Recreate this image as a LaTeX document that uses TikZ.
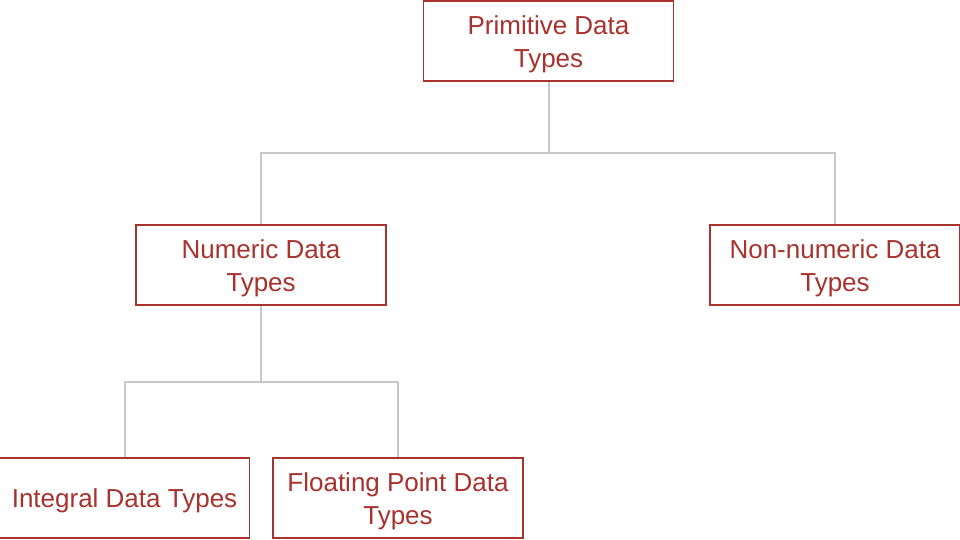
\documentclass[tikz,border=0pt]{standalone}
\usepackage{fontspec}
\setmainfont{Liberation Sans}
\definecolor{boxred}{HTML}{A8322D}
\definecolor{linegray}{HTML}{C8C8C8}
\begin{document}
\begin{tikzpicture}[x=1pt,y=-1pt,
  box/.style={draw=boxred,line width=1.5pt,fill=white,
    minimum width=250pt,minimum height=80pt,inner sep=0pt},
  lbl/.style={text=boxred,inner sep=0pt,align=center,yshift=-3pt,
    font=\fontsize{26}{33}\selectfont},
  conn/.style={draw=linegray,line width=2pt}]
\useasboundingbox (0,0) rectangle (960,540);
\node[box] (prim) at (548.5,41) {};
\node[box] (num) at (261,265) {};
\node[box] (non) at (835,265) {};
\node[box] (int) at (124.5,498) {};
\node[box] (flt) at (398,498) {};
\node[lbl] (primt) at (prim.center) {Primitive Data\\Types};
\node[lbl] (numt) at (num.center) {Numeric Data\\Types};
\node[lbl] (nont) at (non.center) {Non-numeric Data\\Types};
\node[lbl] (intt) at (int.center) {Integral Data Types};
\node[lbl] (fltt) at (flt.center) {Floating Point Data\\Types};
\coordinate (j1) at (548.5,153);
\coordinate (j2) at (261,382);
\draw[conn] (prim.south) -- (j1) -| (num.north);
\draw[conn] (j1) -| (non.north);
\draw[conn] (num.south) -- (j2) -| (int.north);
\draw[conn] (j2) -| (flt.north);
\end{tikzpicture}
\end{document}
